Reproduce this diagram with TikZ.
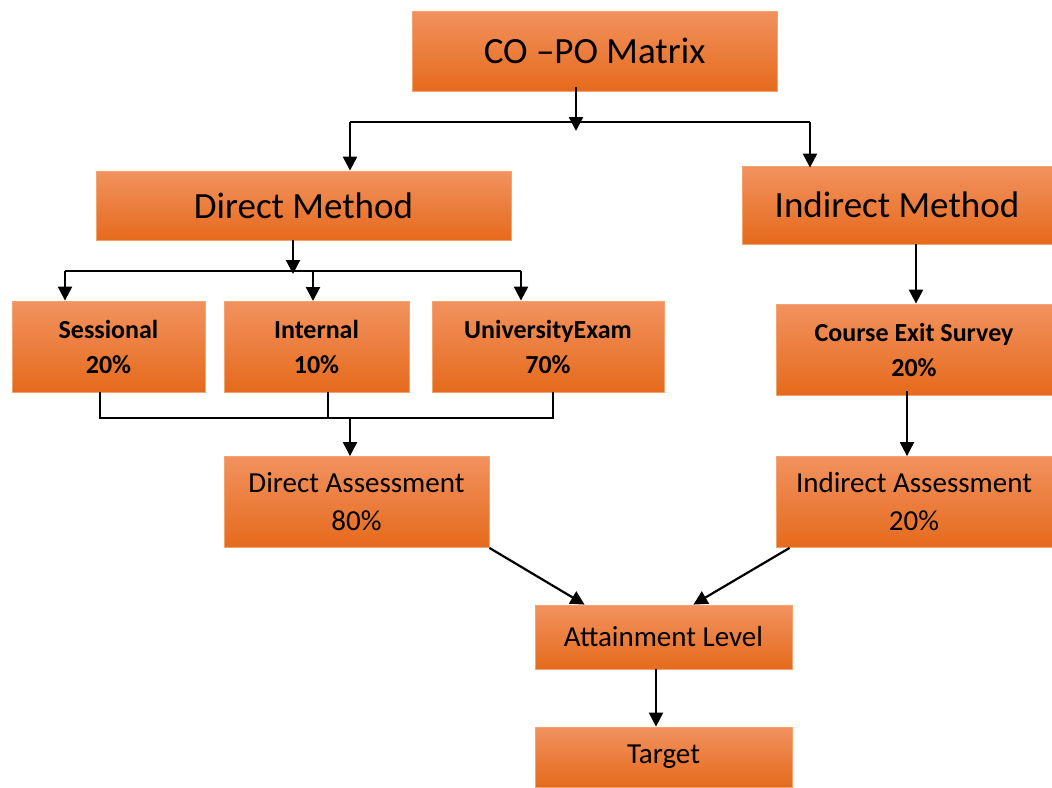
\documentclass[tikz,border=0pt]{standalone}
\usepackage{fontspec}
\setmainfont{Carlito}
\usetikzlibrary{arrows.meta}
\definecolor{boxtop}{HTML}{F2925F}
\definecolor{boxmid}{HTML}{F27B2B}
\definecolor{boxbot}{HTML}{E56A1C}
\definecolor{boxedge}{HTML}{F4A36E}
\begin{document}
\begin{tikzpicture}[x=1pt,y=-1pt,
  box/.style={draw=boxedge, line width=0.8pt, top color=boxtop, middle color=boxmid,
    bottom color=boxbot, inner sep=0pt, align=center, text=black},
  big/.style={font=\fontsize{37}{44}\selectfont},
  mid/.style={font=\fontsize{29}{38}\selectfont},
  bld/.style={font=\fontsize{26}{35}\selectfont\bfseries},
  conn/.style={line width=2.2pt, black},
  arr/.style={conn, -{Triangle[length=14pt,width=14pt]}}]
\useasboundingbox (0,0) rectangle (1052,787);

% boxes
\node[box, big, minimum width=365pt, minimum height=80pt] (copo) at (594.5,51) {CO –PO Matrix};
\node[box, big, minimum width=415pt, minimum height=69pt] (dm) at (303.5,205.5) {Direct Method};
\node[box, big, minimum width=310pt, minimum height=78pt] (im) at (897,205) {Indirect Method};
\node[box, bld, minimum width=193pt, minimum height=91pt] (ses) at (108.5,346.5) {Sessional\\20\%};
\node[box, bld, minimum width=185pt, minimum height=91pt] (int) at (316.5,346.5) {Internal\\10\%};
\node[box, bld, minimum width=232pt, minimum height=91pt] (uni) at (548,346.5) {UniversityExam\\70\%};
\node[box, bld, minimum width=276pt, minimum height=91pt] (ces) at (914,349.5) {Course Exit Survey\\20\%};
\node[box, mid, minimum width=265pt, minimum height=91pt] (da) at (356.5,502) {Direct Assessment\\80\%};
\node[box, mid, minimum width=276pt, minimum height=91pt] (ia) at (914,502) {Indirect Assessment\\20\%};
\node[box, mid, minimum width=257pt, minimum height=64pt] (al) at (663.5,637) {Attainment Level};
\node[box, mid, minimum width=257pt, minimum height=60pt] (tg) at (663.5,757) {Target};

% junction points
\coordinate (j1) at (576,122);
\coordinate (j1l) at (350,122);
\coordinate (j1r) at (810,122);
\coordinate (j2) at (293,271);
\coordinate (j2l) at (65,271);
\coordinate (j2r) at (521,271);
\coordinate (j3) at (350,418);
\coordinate (j3l) at (100,418);
\coordinate (j3r) at (553,418);

% CO-PO split
\draw[arr] ([xshift=-18.5pt,yshift=4pt]copo.south) -- ([yshift=-9pt]j1);
\draw[conn] (j1l) -- (j1r);
\draw[arr] (j1l) -- (j1l |- dm.north);
\draw[arr] (j1r) -- ([yshift=-2pt]j1r |- im.north);

% direct method split
\draw[arr] ([xshift=-10.5pt]dm.south) -- ([yshift=-3pt]j2);
\draw[conn] (j2l) -- (j2r);
\draw[arr] (j2l) -- (j2l |- ses.north);
\draw[arr] (313,271) -- (313,301);
\draw[arr] (j2r) -- (j2r |- uni.north);

% merge into direct assessment
\draw[conn] (j3l |- ses.south) -- (j3l) -- (j3r) -- (j3r |- uni.south);
\draw[conn] (328,392) -- (328,418);
\draw[arr] (j3) -- (j3 |- da.north);

% indirect branch
\draw[arr] ([xshift=19pt]im.south) -- ([xshift=2pt]ces.north);
\draw[arr] ([xshift=-7pt,yshift=4pt]ces.south) -- ([xshift=-7pt]ia.north);

% to attainment and target
\draw[arr] (da.south east) -- ([xshift=50pt]al.north west);
\draw[arr] ([xshift=14pt]ia.south west) -- ([xshift=-99pt]al.north east);
\draw[arr] ([xshift=-7.5pt]al.south) -- ([xshift=-7.5pt]tg.north);
\end{tikzpicture}
\end{document}
